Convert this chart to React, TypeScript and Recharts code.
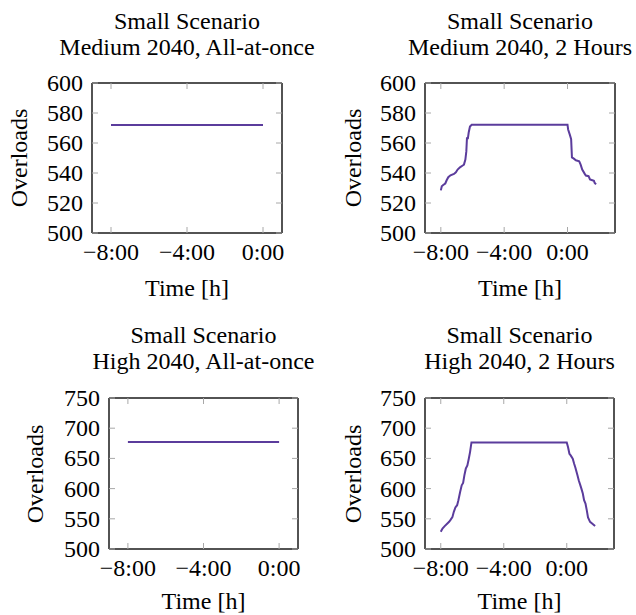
import React from "react";
import { LineChart, Line, XAxis, YAxis, ReferenceLine } from "recharts";

// Time in hours relative to the event, value = number of overloads
const medAllTimes = [-8, 0];
const medAllValues = [572, 572];

const medTwoTimes = [
  -8, -7.94, -7.85, -7.72, -7.64, -7.53, -7.39, -7.17, -7.05, -6.94, -6.79, -6.62, -6.54, -6.45,
  -6.39, -6.35, -6.29, -6.24, -6.16, -6.05, 0, 0.04, 0.15, 0.23, 0.28, 0.4, 0.53, 0.74, 0.83,
  0.93, 1.08, 1.16, 1.33, 1.42, 1.57, 1.67, 1.71, 1.8,
];
const medTwoValues = [
  528.4, 531.2, 532, 533, 535, 537.2, 538.5, 539.4, 540.5, 542.3, 543.8, 545, 545.6, 549, 554.4,
  563.2, 563.2, 567, 571, 572.2, 572.2, 569, 565.4, 562.6, 550.4, 549.6, 548.5, 547.8, 545.6,
  542.3, 539.6, 538.3, 537.9, 535.7, 535.2, 534.8, 533.5, 532.4,
];

const highAllTimes = [-8, 0];
const highAllValues = [677, 677];

const highTwoTimes = [
  -8, -7.89, -7.75, -7.58, -7.47, -7.39, -7.26, -7.17, -7.07, -6.96, -6.88, -6.77, -6.67, -6.58,
  -6.5, -6.41, -6.31, -6.22, -6.14, -6.05, 0, 0.08, 0.17, 0.25, 0.38, 0.47, 0.55, 0.68, 0.76,
  0.85, 0.93, 1.02, 1.1, 1.19, 1.27, 1.35, 1.48, 1.61, 1.8,
];
const highTwoValues = [
  528.6, 534, 537.9, 542.3, 545, 547.8, 552.7, 561.5, 568.7, 572.5, 580.8, 594.5, 605.5, 609.3,
  622, 633, 638.5, 649.5, 660.4, 676.5, 676.5, 668.7, 657.7, 655, 649.5, 641.2, 634.6, 622,
  613.7, 606.6, 600, 591.8, 580.8, 575.3, 564.3, 552.2, 545, 542.3, 538,
];

const xTicks = [-8, -4, 0];
const mediumTicks = [500, 520, 540, 560, 580, 600];
const highTicks = [500, 550, 600, 650, 700, 750];

const FONT = '"Liberation Serif", "Times New Roman", serif';
const LINE_COLOR = "#5b3c9c";
const TICK_GRAY = "#a8a8a8";
const FRAME = "#1a1a1a";

const fmtHours = (h: number) => (h < 0 ? "\u2212" + Math.abs(h) + ":00" : h + ":00");

type PanelProps = {
  title: string[];
  times: number[];
  values: number[];
  xDomain: [number, number];
  yDomain: [number, number];
  yTicks: number[];
  left: number;
  top: number;
  width: number;
  height: number;
  ylabelX: number;
  titleY: number;
  xlabelY: number;
};

const PAD_L = 100;
const PAD_T = 24;
const PAD_R = 24;
const PAD_B = 44;

function Panel(p: PanelProps) {
  const data = p.times.map((t, i) => ({ t, v: p.values[i] }));
  const plotTop = PAD_T;
  const plotRight = PAD_L + p.width;
  const cx = p.left + p.width / 2;

  const XTick = (props: any) => {
    const { x, y, payload } = props;
    return (
      <g>
        <line x1={x} x2={x} y1={y} y2={y - 6} stroke={TICK_GRAY} />
        <line x1={x} x2={x} y1={plotTop} y2={plotTop + 6} stroke={TICK_GRAY} />
        <text x={x} y={y + 27} textAnchor="middle" fontFamily={FONT} fontSize={24} fill="#000">
          {fmtHours(payload.value)}
        </text>
      </g>
    );
  };

  const YTick = (props: any) => {
    const { x, y, payload } = props;
    return (
      <g>
        <line x1={x} x2={x + 6} y1={y} y2={y} stroke={TICK_GRAY} />
        <line x1={plotRight - 6} x2={plotRight} y1={y} y2={y} stroke={TICK_GRAY} />
        <text x={x - 9} y={y + 8} textAnchor="end" fontFamily={FONT} fontSize={24} fill="#000">
          {payload.value}
        </text>
      </g>
    );
  };

  const text: React.CSSProperties = {
    position: "absolute",
    fontFamily: FONT,
    fontSize: 24,
    whiteSpace: "nowrap",
    color: "#000",
    textAlign: "center",
  };

  return (
    <>
      <div style={{ ...text, left: cx, top: p.titleY, transform: "translate(-50%, -50%)", lineHeight: "26px" }}>
        {p.title.map((s) => (
          <div key={s}>{s}</div>
        ))}
      </div>
      <div
        style={{
          ...text,
          left: p.ylabelX,
          top: p.top + p.height / 2,
          lineHeight: 1,
          transform: "translate(-50%, -50%) rotate(-90deg)",
        }}
      >
        Overloads
      </div>
      <div style={{ ...text, left: cx, top: p.xlabelY, lineHeight: 1, transform: "translate(-50%, -50%)" }}>
        Time [h]
      </div>
      <div style={{ position: "absolute", left: p.left - PAD_L, top: p.top - PAD_T }}>
        <LineChart
          width={p.width + PAD_L + PAD_R}
          height={p.height + PAD_T + PAD_B}
          data={data}
          margin={{ top: PAD_T, right: PAD_R, bottom: 0, left: 0 }}
        >
          <XAxis
            dataKey="t"
            type="number"
            domain={p.xDomain}
            ticks={xTicks}
            height={PAD_B}
            tickSize={0}
            tickMargin={0}
            tickLine={false}
            axisLine={false}
            tick={XTick}
            interval={0}
          />
          <YAxis
            type="number"
            domain={p.yDomain}
            ticks={p.yTicks}
            width={PAD_L}
            tickSize={0}
            tickMargin={0}
            tickLine={false}
            axisLine={false}
            tick={YTick}
            interval={0}
          />
          {/* plot frame, drawn through the chart's own scales */}
          <ReferenceLine x={p.xDomain[0]} stroke={FRAME} strokeWidth={1.5} ifOverflow="visible" />
          <ReferenceLine x={p.xDomain[1]} stroke={FRAME} strokeWidth={1.5} ifOverflow="visible" />
          <ReferenceLine y={p.yDomain[0]} stroke={FRAME} strokeWidth={1.5} ifOverflow="visible" />
          <ReferenceLine y={p.yDomain[1]} stroke={FRAME} strokeWidth={1.5} ifOverflow="visible" />
          <Line
            dataKey="v"
            type="linear"
            stroke={LINE_COLOR}
            strokeWidth={2}
            dot={false}
            isAnimationActive={false}
          />
        </LineChart>
      </div>
    </>
  );
}

export default function App() {
  return (
    <div style={{ position: "absolute", left: 0, top: 0, width: 636, height: 615, background: "#fff" }}>
      <Panel
        title={["Small Scenario", "Medium 2040, All-at-once"]}
        times={medAllTimes}
        values={medAllValues}
        xDomain={[-9, 1]}
        yDomain={[500, 600]}
        yTicks={mediumTicks}
        left={92}
        top={83}
        width={190}
        height={150}
        ylabelX={19}
        titleY={34}
        xlabelY={288}
      />
      <Panel
        title={["Small Scenario", "Medium 2040, 2 Hours"]}
        times={medTwoTimes}
        values={medTwoValues}
        xDomain={[-9, 3]}
        yDomain={[500, 600]}
        yTicks={mediumTicks}
        left={425}
        top={83}
        width={190}
        height={150}
        ylabelX={353}
        titleY={34}
        xlabelY={288}
      />
      <Panel
        title={["Small Scenario", "High 2040, All-at-once"]}
        times={highAllTimes}
        values={highAllValues}
        xDomain={[-9, 1]}
        yDomain={[500, 750]}
        yTicks={highTicks}
        left={109}
        top={398}
        width={189}
        height={151}
        ylabelX={35}
        titleY={348}
        xlabelY={601}
      />
      <Panel
        title={["Small Scenario", "High 2040, 2 Hours"]}
        times={highTwoTimes}
        values={highTwoValues}
        xDomain={[-9, 3]}
        yDomain={[500, 750]}
        yTicks={highTicks}
        left={425}
        top={398}
        width={189}
        height={151}
        ylabelX={353}
        titleY={348}
        xlabelY={601}
      />
    </div>
  );
}
